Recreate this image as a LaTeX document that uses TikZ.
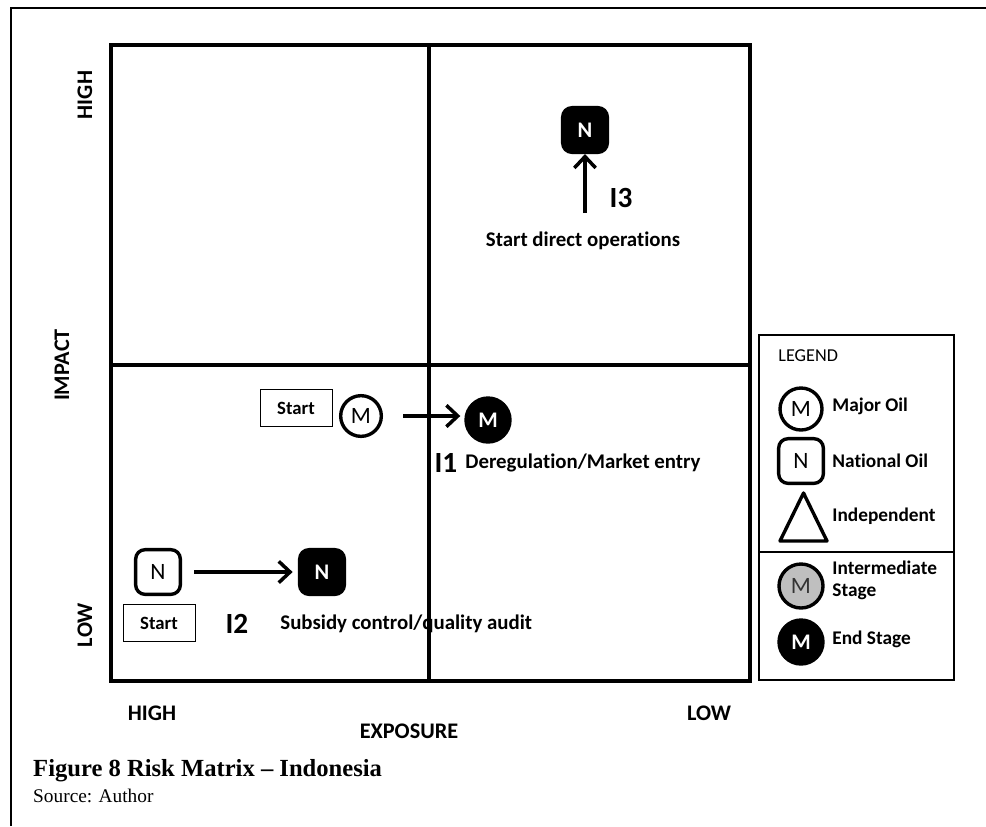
\documentclass[tikz,border=0pt]{standalone}
\usepackage{fontspec}
\setmainfont{Carlito}[Ligatures=NoCommon]
\newfontfamily\capfont{Liberation Serif}
\usetikzlibrary{arrows.meta,positioning}
\tikzset{
  sym/.style={draw=black,line width=2.9pt,inner sep=0pt,
              font=\fontsize{20}{20}\selectfont},
  major/.style={sym,circle,minimum size=1.22cm},
  natl/.style={sym,rounded corners=8pt,minimum size=1.34cm},
  midm/.style={major,fill=black!25,text=black!80,minimum size=1.32cm},
  endm/.style={major,fill=black,text=white,minimum size=1.32cm,
               font=\fontsize{19}{19}\selectfont\bfseries},
  endn/.style={natl,fill=black,text=white,
               font=\fontsize{19}{19}\selectfont\bfseries},
  startbox/.style={draw=black,line width=0.8pt,minimum width=2.16cm,
                   minimum height=1.1cm,inner sep=0pt,
                   font=\fontsize{16}{16}\selectfont\bfseries},
  move/.style={-{Straight Barb[length=3.4mm,width=6.4mm]},line width=3pt},
  lbl/.style={inner sep=1pt,font=\fontsize{17.8}{17.8}\selectfont\bfseries},
  ilbl/.style={inner sep=1pt,font=\fontsize{25}{25}\selectfont\bfseries},
  axlbl/.style={inner sep=1pt,font=\fontsize{19}{19}\selectfont\bfseries},
  leglbl/.style={anchor=west,align=left,inner sep=1pt,
                 font=\fontsize{16.5}{19}\selectfont\bfseries},
  grid/.style={line width=2.6pt,line cap=rect},
}

\begin{document}
\begin{tikzpicture}[x=0.03cm,y=-0.03cm]
  \useasboundingbox (0,0) rectangle (986,826);
  % page frame, open at right and bottom
  \draw[line width=1.2pt] (11,826) -- (11,8) -- (986,8);

  % the matrix
  \draw[grid] (111,45) rectangle (750,681);
  \draw[grid] (429,45) -- (429,681) (111,365) -- (750,365);

  % I3, upper right
  \node[endn] (n3) at (585,130) {N};
  \coordinate (s3) at (585,213);
  \draw[move] (s3) -- (n3);
  \node[ilbl] (i3) at (621,198) {I3};
  \node[lbl] (t3) at (583,241) {Start direct operations};

  % I1, middle
  \node[startbox] (st1) at (296,408) {Start};
  \node[major] (m1) at (361,416) {M};
  \node[endm] (m1e) at (488,420) {M};
  \draw[move,shorten <=0.6cm,shorten >=0.12cm] (m1) -- (m1 -| m1e.west);
  \node[ilbl] (i1) at (446,463) {I1};
  \node[lbl,anchor=west] (t1) at (464,463) {Deregulation/Market entry};

  % I2, lower left
  \node[natl] (n2) at (158,572) {N};
  \node[endn] (n2e) at (322,572) {N};
  \draw[move,shorten <=0.36cm,shorten >=0.16cm] (n2) -- (n2e);
  \node[startbox] (st2) at (159,623) {Start};
  \node[ilbl] (i2) at (237,624) {I2};
  \node[lbl,anchor=west] (t2) at (279,624) {Subsidy control/quality audit};

  % axes
  \node[axlbl,rotate=90] (ih) at (85,95) {HIGH};
  \node[axlbl,rotate=90] (imp) at (62,365) {IMPACT};
  \node[axlbl,rotate=90] (il) at (85,625) {LOW};
  \node[axlbl] (eh) at (152,713) {HIGH};
  \node[axlbl] (ex) at (409,731) {EXPOSURE};
  \node[axlbl] (el) at (709,713) {LOW};

  % legend
  \draw[line width=1.6pt] (759,335) rectangle (954,680);
  \draw[line width=1.2pt] (759,552) -- (954,552);
  \node[anchor=west,inner sep=1pt,font=\fontsize{15.5}{15.5}\selectfont] (leg) at (777,356) {LEGEND};
  \node[major,minimum size=1.26cm] (lm) at (801,409) {M};
  \node[leglbl] (lmt) at (831,406) {Major Oil};
  \node[natl] (ln) at (801,461) {N};
  \node[leglbl] (lnt) at (831,461) {National Oil};
  \draw[line width=2.9pt,line join=round] (780,541) -- (803.5,493) -- (827,541) -- cycle;
  \node[leglbl] (lit) at (831,516) {Independent};
  \node[midm] (lg) at (801,586) {M};
  \node[leglbl] (lgt) at (831,580) {Intermediate\\Stage};
  \node[endm] (le) at (801,642) {M};
  \node[leglbl] (let) at (831,639) {End Stage};

  % caption
  \node[anchor=west,inner sep=0pt,font=\capfont\fontsize{21}{21}\selectfont\bfseries] (cap) at (33,771) {Figure 8 Risk Matrix \textendash\ Indonesia};
  \node[anchor=west,inner sep=0pt,font=\capfont\fontsize{16.5}{16.5}\selectfont] (src) at (33,796) {Source: Author};
\end{tikzpicture}
\end{document}
